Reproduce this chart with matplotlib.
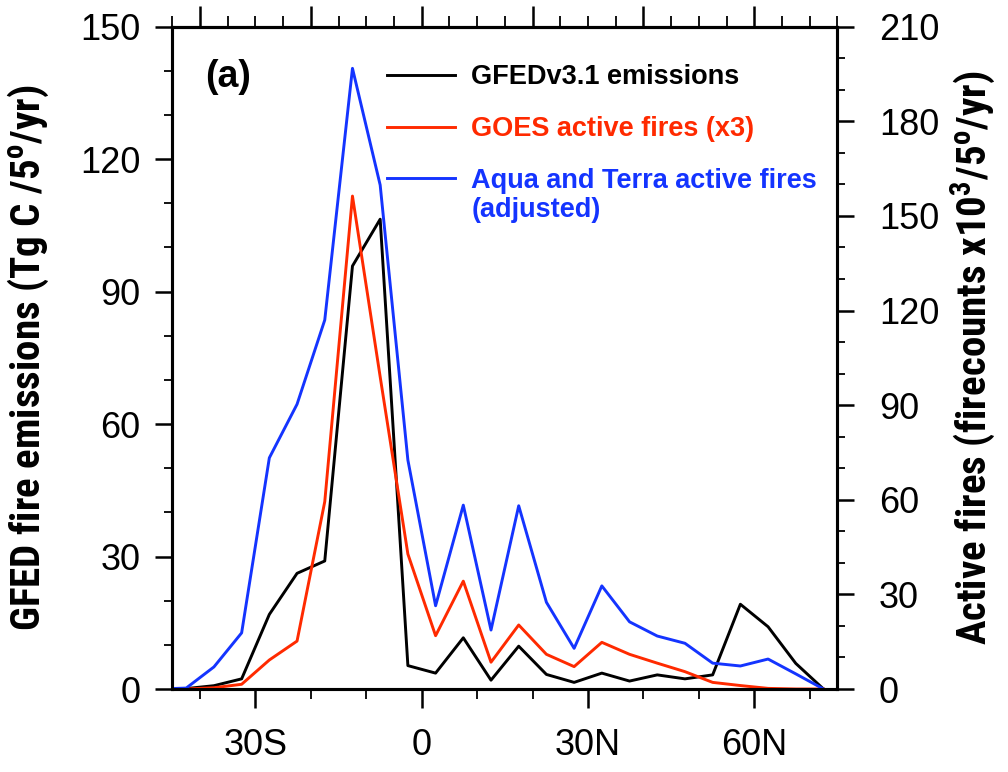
import numpy as np
import matplotlib
matplotlib.use("Agg")
import matplotlib.pyplot as plt
from matplotlib import font_manager as fm
from matplotlib.ticker import MultipleLocator, NullFormatter
from matplotlib.lines import Line2D

plt.rcParams["font.family"] = ["Liberation Sans", "DejaVu Sans"]

# latitude band centres (5 degree bins)
lat = [-47.5, -42.5, -37.5, -32.5, -27.5, -22.5, -17.5, -12.5, -7.5, -2.5,
       2.5, 7.5, 12.5, 17.5, 22.5, 27.5, 32.5, 37.5, 42.5, 47.5,
       52.5, 57.5, 62.5, 67.5, 72.5]

# GFEDv3.1 emissions (Tg C / 5deg / yr) - left axis
gfed = [0, 0.1, 0.75, 2.3, 16.9, 26.2, 29.0, 95.8, 106.4, 5.3,
        3.6, 11.6, 2.0, 9.7, 3.3, 1.5, 3.6, 1.8, 3.2, 2.3,
        3.2, 19.2, 14.1, 5.8, 0]

# GOES active fires x3 (firecounts x10^3) - right axis
goes = [0, 0, 0.4, 1.5, 9.2, 15.2, 59.4, 156.3, 99.0, 42.8,
        16.9, 34.2, 8.5, 20.3, 11.0, 7.1, 14.8, 11.0, 8.2, 5.5,
        2.1, 1.1, 0.2, 0, 0]

# Aqua and Terra active fires, adjusted - right axis
modis = [0, 0.3, 7.0, 17.8, 73.3, 90.3, 117.0, 196.8, 159.8, 72.6,
         26.4, 58.3, 18.7, 58.1, 27.5, 12.9, 32.7, 21.3, 16.8, 14.5,
         8.2, 7.3, 9.5, 4.8, 0]

lat_ticks = [-30, 0, 30, 60]
lat_labels = ["30S", "0", "30N", "60N"]


def pick_narrow():
    # look for a condensed bold face for the axis titles
    for fam in ["Liberation Sans Narrow", "Roboto Condensed", "Noto Sans Condensed",
                "Open Sans Condensed", "DejaVu Sans Condensed"]:
        try:
            fm.findfont(fm.FontProperties(family=fam, weight="bold"),
                        fallback_to_default=False)
            return fam, "normal"
        except ValueError:
            pass
    for fam in ["Noto Sans", "Roboto", "Open Sans", "DejaVu Sans"]:
        try:
            path = fm.findfont(fm.FontProperties(family=fam, weight="bold",
                                                 stretch="condensed"),
                               fallback_to_default=False)
        except ValueError:
            continue
        if "ondensed" in path or "arrow" in path:
            return fam, "condensed"
    return "Liberation Sans", "normal"


narrow_fam, narrow_stretch = pick_narrow()
plt.rcParams["mathtext.fontset"] = "custom"
spec = narrow_fam + ":bold" + (":condensed" if narrow_stretch == "condensed" else "")
plt.rcParams["mathtext.rm"] = spec
plt.rcParams["mathtext.bf"] = spec

c_black = "black"
c_red = "#ff2a00"
c_blue = "#1434ff"
lw = 2.1

fig = plt.figure(figsize=(10.08, 7.72), dpi=100)
ax = fig.add_axes([0.171, 0.1075, 0.6597, 0.8579])
ax2 = ax.twinx()

ax.plot(lat, gfed, color=c_black, lw=lw)
ax2.plot(lat, goes, color=c_red, lw=lw)
ax2.plot(lat, modis, color=c_blue, lw=lw)

ax.set_xlim(-45, 75)
ax.set_ylim(0, 150)
ax2.set_ylim(0, 210)

tick_fs = 26
ax.set_xticks(lat_ticks)
ax.set_xticklabels(lat_labels)
ax.xaxis.set_minor_locator(MultipleLocator(10))
ax.yaxis.set_major_locator(MultipleLocator(30))
ax.yaxis.set_minor_locator(MultipleLocator(10))
ax2.yaxis.set_major_locator(MultipleLocator(30))
ax2.yaxis.set_minor_locator(MultipleLocator(10))

for a in (ax, ax2):
    for s in a.spines.values():
        s.set_linewidth(2.2)
ax.tick_params(axis="x", which="major", direction="out", length=14, width=1.8,
               labelsize=tick_fs, pad=14)
ax.tick_params(axis="x", which="minor", direction="out", length=7, width=1.3)
ax.tick_params(axis="y", which="major", direction="out", length=12, width=1.8,
               labelsize=tick_fs, pad=11)
ax.tick_params(axis="y", which="minor", direction="out", length=6, width=1.3)
ax2.tick_params(axis="y", which="major", direction="out", length=12, width=1.8,
                labelsize=tick_fs, pad=18)
ax2.tick_params(axis="y", which="minor", direction="out", length=6, width=1.3)

# top axis: unlabeled ticks every 20 / 5 degrees
top = ax.secondary_xaxis("top")
top.xaxis.set_major_locator(MultipleLocator(20))
top.xaxis.set_minor_locator(MultipleLocator(5))
top.xaxis.set_major_formatter(NullFormatter())
top.tick_params(which="major", direction="out", length=15, width=1.8)
top.tick_params(which="minor", direction="out", length=8, width=1.3)
top.spines["top"].set_linewidth(2.2)

lab_font = {"family": [narrow_fam, "DejaVu Sans"], "weight": "bold",
            "size": 25, "stretch": narrow_stretch}
ylab_l = ax.set_ylabel(r"GFED fire emissions (Tg C /5$^{\rm o}$/yr)", fontdict=lab_font)
ax.yaxis.set_label_coords(-0.183, 0.5)
ylab_r = ax2.set_ylabel(r"Active fires (firecounts x10$^{\rm 3}$/5$^{\rm o}$/yr)",
                        fontdict=lab_font, rotation=90)
ax2.yaxis.set_label_coords(1.168, 0.5)

ax.text(0.049, 0.924, "(a)", transform=ax.transAxes, fontsize=27,
        fontweight="bold", va="center", ha="left")

handles = [Line2D([], [], color=c_black, lw=lw),
           Line2D([], [], color=c_red, lw=lw),
           Line2D([], [], color=c_blue, lw=lw)]
labels = ["GFEDv3.1 emissions", "GOES active fires (x3)",
          "Aqua and Terra active fires"]
leg = ax.legend(handles, labels, loc="upper left", bbox_to_anchor=(0.323, 0.943),
                frameon=False, borderpad=0, borderaxespad=0,
                handlelength=2.5, handletextpad=0.6, labelspacing=0.95,
                prop={"weight": "bold", "size": 19.5})
for t, c in zip(leg.get_texts(), [c_black, c_red, c_blue]):
    t.set_color(c)
ax.text(0.450, 0.724, "(adjusted)", transform=ax.transAxes, fontsize=19.5,
        fontweight="bold", color=c_blue, va="center", ha="left")

# fit the axis titles to the length they have in the reference
fig.canvas.draw()
for lab, target in [(ylab_l, 570), (ylab_r, 600)]:
    h = lab.get_window_extent().height
    lab.set_fontsize(min(29.5, 25 * target / h))

fig.savefig("out.png", dpi=100)
